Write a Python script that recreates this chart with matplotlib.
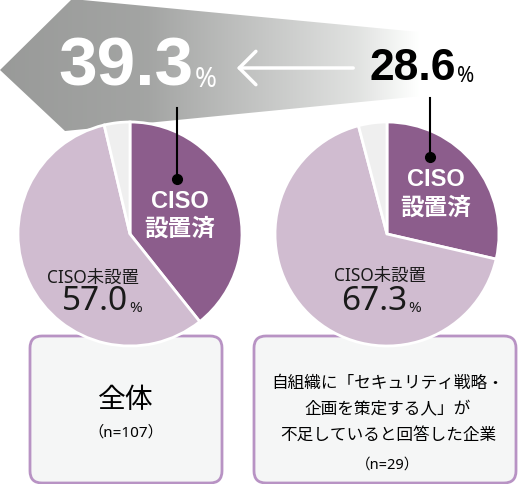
import numpy as np
import matplotlib
matplotlib.use("Agg")
import matplotlib.pyplot as plt
from matplotlib.patches import Polygon, FancyBboxPatch

# 数字は Noto Sans、和文は Noto Sans CJK JP
plt.rcParams['font.family'] = ['Noto Sans', 'Noto Sans CJK JP', 'DejaVu Sans']
BOLD = ['Liberation Sans', 'Noto Sans CJK JP', 'DejaVu Sans']

# データ
labels = ['CISO設置済', 'CISO未設置', '無回答']
zentai = [39.3, 57.0, 3.7]          # 全体 (n=107)
fusoku = [28.6, 67.3, 4.1]          # 人材不足企業 (n=29)
pie_colors = ['#8c5d8c', '#d0bcd0', '#efefef']
box_titles = ['全体', '自組織に「セキュリティ戦略・\n企画を策定する人」が\n不足していると回答した企業']
box_n = ['（n=107）', '（n=29）']

W, H = 524, 484
fig = plt.figure(figsize=(W / 100, H / 100), dpi=100)
ax = fig.add_axes([0, 0, 1, 1])

def Y(py):
    return H - py

# 背景のグラデーション矢印
banner = Polygon([(0, Y(70)), (72, Y(-1)), (524, Y(42)), (524, Y(86)), (65, Y(131))],
                 closed=True, facecolor='none', edgecolor='none')
ax.add_patch(banner)
xs = np.linspace(0, 1, 400)
stops_x = [0.0, 0.35, 0.62, 0.85, 1.0]
stops_c = [0.60, 0.64, 0.77, 0.88, 1.0]
g = np.interp(xs, stops_x, stops_c)
img = np.tile(np.stack([g, g + 0.005, g], axis=-1).clip(0, 1), (10, 1, 1))
im = ax.imshow(img, extent=[0, 420, Y(135), Y(-5)], aspect='auto', zorder=1)
im.set_clip_path(banner)

# 下部のボックス
for x0, x1 in [(30, 222), (254, 516)]:
    ax.add_patch(FancyBboxPatch((x0, Y(483)), x1 - x0, 147,
                                boxstyle='round,pad=0,rounding_size=12',
                                facecolor='#f5f6f6', edgecolor='#b893c4',
                                linewidth=2, zorder=2))

# 円グラフ
centers = [(130, 234), (387, 234)]
for vals, (cx, cy) in zip([zentai, fusoku], centers):
    wedges, _ = ax.pie(vals, colors=pie_colors, startangle=90, counterclock=False,
                       center=(cx, Y(cy)), radius=112,
                       wedgeprops=dict(edgecolor='white', linewidth=2))
    for w in wedges:
        w.set_zorder(3)

ax.set_xlim(0, W)
ax.set_ylim(0, H)
ax.set_aspect('equal')
ax.axis('off')

# 引き出し線
for x, y0, y1 in [(177, 108, 179), (430, 98, 157)]:
    ax.plot([x, x], [Y(y0), Y(y1)], color='black', lw=1.5, zorder=5)
    ax.plot(x, Y(y1), 'o', color='black', ms=7, zorder=5)

# 上部の数値
ax.text(194, Y(67), f'{zentai[0]}', color='white', fontsize=50, fontweight='bold',
        family=BOLD, ha='right', va='center', zorder=6)
ax.text(195, Y(80), '%', color='white', fontsize=19, ha='left', va='center', zorder=6)
ax.text(456, Y(69), f'{fusoku[0]}', color='black', fontsize=32, fontweight='bold',
        family=BOLD, ha='right', va='center', zorder=6)
ax.text(457, Y(77), '%', color='black', fontsize=15, ha='left', va='center', zorder=6)
ax.annotate('', xy=(234, Y(68)), xytext=(356, Y(68)),
            arrowprops=dict(arrowstyle='->,head_length=0.6,head_width=0.6',
                            color='white', lw=2.5, mutation_scale=20), zorder=6)

# 円グラフ内ラベル
for (tx, ty1, ty2) in [(180, 201, 229), (436, 180, 208)]:
    ax.text(tx, Y(ty1), 'CISO', color='white', fontsize=17, fontweight='bold',
            family=BOLD, ha='center', va='center', zorder=6)
    ax.text(tx, Y(ty2), '設置済', color='white', fontsize=17, fontweight='bold',
            family=BOLD, ha='center', va='center', zorder=6)

for vals, (lx, ly, nx, ny) in zip([zentai, fusoku], [(93, 278, 128, 302), (380, 276, 407, 302)]):
    ax.text(lx, Y(ly), labels[1], color='#1a1a1a', fontsize=12.5,
            ha='center', va='center', zorder=6)
    ax.text(nx, Y(ny), f'{vals[1]}', color='#1a1a1a', fontsize=24,
            ha='right', va='center', zorder=6)
    ax.text(nx + 1, Y(ny + 6), '%', color='#1a1a1a', fontsize=11,
            ha='left', va='center', zorder=6)

# ボックス内テキスト
ax.text(126, Y(401), box_titles[0], fontsize=20, ha='center', va='center', zorder=6)
ax.text(126, Y(433), box_n[0], fontsize=11, ha='center', va='center', zorder=6)
ax.text(388, Y(410), box_titles[1], fontsize=12, ha='center', va='center',
        linespacing=1.8, zorder=6)
ax.text(388, Y(465), box_n[1], fontsize=10.5, ha='center', va='center', zorder=6)

fig.savefig('out.png', dpi=100)
